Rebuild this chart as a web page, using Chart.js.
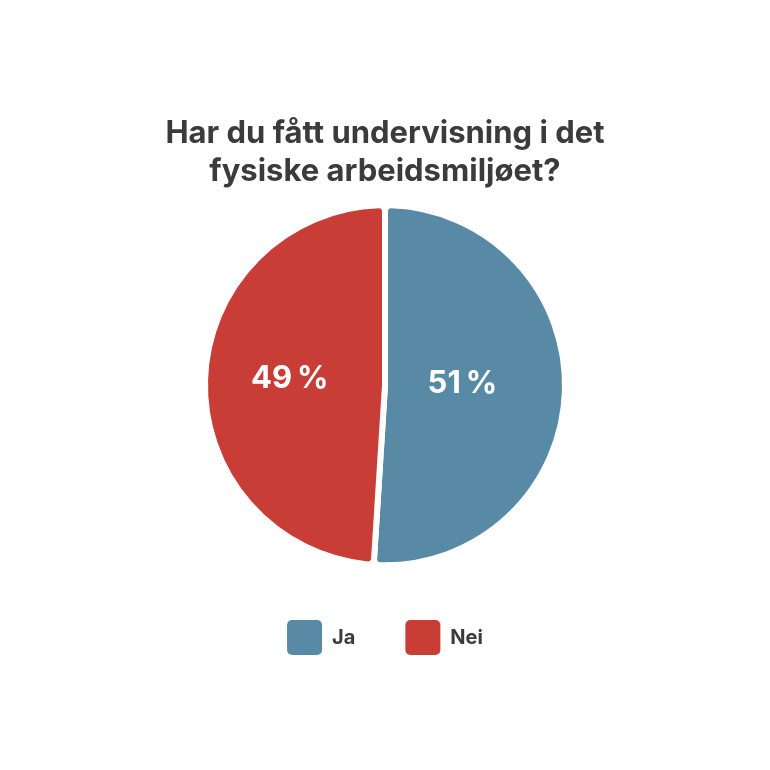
<!DOCTYPE html>
<html>
<head>
<meta charset="utf-8">
<script src="https://cdn.jsdelivr.net/npm/chart.js@4"></script>
<style>
  html, body { margin: 0; padding: 0; background: #fff; }
  #wrap { width: 770px; height: 770px; }
</style>
</head>
<body>
<div id="wrap"><canvas id="pie_canva"></canvas></div>
<script>
const labels = ['Ja', 'Nei'];
const values = [51, 49];
const colors = ['rgb(88, 138, 166)', 'rgb(200, 61, 54)'];
const title_lines = ['Har du fått undervisning i det', 'fysiske arbeidsmiljøet?'];

const FONT = 'Inter';
const TEXT_COLOR = '#3b3b3b';

// ----- prosent-etiketter i sektorene -----
const pctLabels = {
    id: 'pctLabels',
    afterDatasetsDraw(chart) {
        const ctx = chart.ctx;
        const meta = chart.getDatasetMeta(0);
        ctx.save();
        ctx.fillStyle = '#fff';
        ctx.font = 'bold 31px ' + FONT;
        ctx.textAlign = 'center';
        ctx.textBaseline = 'middle';
        meta.data.forEach(function (arc, i) {
            const p = arc.getProps(['x', 'y', 'startAngle', 'endAngle', 'outerRadius']);
            const mid = (p.startAngle + p.endAngle) / 2;
            const r = p.outerRadius * 0.48;
            ctx.fillText(values[i] + '\u2009%', p.x - 9 + Math.cos(mid) * r, p.y - 4 + Math.sin(mid) * r);
        });
        ctx.restore();
    }
};

const data_pie = {
    labels: labels,
    datasets: [{
        data: values,
        backgroundColor: colors,
        borderColor: '#fff',
        borderWidth: 6,
        borderRadius: 6,
        hoverOffset: 0
    }]
};

const config_pie = {
    type: 'pie',
    data: data_pie,
    options: {
        responsive: true,
        maintainAspectRatio: false,
        animation: false,
        radius: 180,
        layout: { padding: { top: 102, bottom: 105 } },
        plugins: {
            title: {
                display: true,
                text: title_lines,
                color: TEXT_COLOR,
                font: { family: FONT, size: 31, weight: 'bold', lineHeight: 1.25 },
                padding: { top: 12, bottom: 9 }
            },
            legend: {
                position: 'bottom',
                labels: {
                    color: TEXT_COLOR,
                    font: { family: FONT, size: 20, weight: 'bold' },
                    boxWidth: 35,
                    boxHeight: 35,
                    padding: 50,
                    useBorderRadius: true,
                    borderRadius: 5,
                    generateLabels(chart) {
                        const items = Chart.overrides.pie.plugins.legend.labels.generateLabels(chart);
                        return items.map(function (it) {
                            it.lineWidth = 0;
                            it.strokeStyle = it.fillStyle;
                            return it;
                        });
                    }
                }
            },
            tooltip: { enabled: false }
        }
    },
    plugins: [pctLabels]
};

var pie = new Chart(document.getElementById('pie_canva'), config_pie);
</script>
</body>
</html>
